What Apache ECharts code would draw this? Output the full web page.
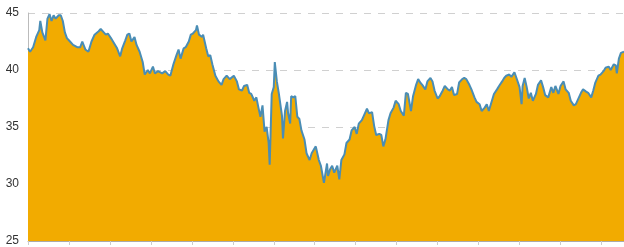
<!DOCTYPE html>
<html><head><meta charset="utf-8">
<script src="https://cdn.jsdelivr.net/npm/echarts@6/dist/echarts.min.js"></script>
<style>html,body{margin:0;padding:0;background:#fff}#c{width:624px;height:247px}</style>
</head><body><div id="c"></div>
<script>
var days = [0,2,5,8,11,12,14,17,19,21,23,25,27,30,32,34,36,38,41,44,48,51,53,56,59,62,65,69,71,74,76,78,81,83,87,90,92,95,97,99,101,104,106,109,112,114,117,119,122,124,127,131,134,137,139,142,145,147,149,152,154,157,159,161,164,165,167,170,171,174,176,178,180,183,186,189,191,194,197,201,204,206,209,211,214,216,218,221,223,225,227,229,231,233,235,236,238,240,241,243,245,248,249,251,253,254,256,257,259,261,263,265,267,270,272,275,277,279,281,284,286,289,292,293,295,297,299,302,304,306,309,311,314,316,319,321,323,326,328,331,333,336,338,340,343,345,347,349,352,354,357,359,362,364,367,369,371,374,376,379,381,383,385,388,390,393,395,397,400,402,405,407,410,412,414,416,419,421,424,426,428,431,433,436,438,441,443,446,448,450,453,455,458,460,463,465,467,470,472,475,477,480,482,483,485,487,489,491,493,496,498,501,503,505,508,511,513,515,518,520,523,525,528,530,533,535,538,540,542,545,547,550,552,554,557,559,562,564,567,569,572,574,575,577,579,582];
var values = [41.9,41.6,42.0,42.9,43.5,44.3,43.3,42.6,44.5,44.9,44.3,44.8,44.5,44.8,44.8,44.3,43.3,42.8,42.5,42.2,42.0,42.0,42.5,41.8,41.6,42.5,43.1,43.4,43.6,43.3,43.1,43.2,42.8,42.5,41.9,41.2,41.9,42.6,43.1,43.2,42.5,42.9,42.2,41.6,40.7,39.6,40.0,39.7,40.3,39.7,39.9,39.7,39.9,39.6,39.5,40.5,41.3,41.8,41.0,41.9,42.0,42.5,43.1,43.2,43.5,43.9,43.1,42.9,43.1,41.9,41.2,41.3,40.5,39.5,39.0,38.7,39.2,39.5,39.2,39.5,39.0,38.3,38.2,38.6,38.7,38.0,37.9,37.3,37.6,36.7,35.9,36.9,34.6,35.0,33.6,31.7,37.9,38.5,40.7,39.0,37.9,36.0,34.0,36.4,37.2,36.2,35.3,37.7,37.6,37.7,35.9,35.7,34.7,33.9,32.7,32.1,32.7,33.0,33.3,32.1,31.6,30.1,31.8,30.7,31.3,31.6,31.0,31.6,30.4,32.1,32.6,33.6,33.9,34.7,35.0,34.4,35.3,35.6,36.0,36.6,36.2,36.3,35.1,34.3,34.4,34.3,33.3,33.9,35.6,36.2,36.7,37.3,37.0,36.4,36.0,38.0,37.9,36.4,37.7,38.7,39.2,38.9,38.7,38.3,39.0,39.3,39.0,38.2,37.5,37.7,38.2,38.6,38.3,38.2,38.5,37.8,37.9,38.9,39.2,39.3,39.2,38.7,38.3,37.6,37.2,37.0,36.4,36.7,37.0,36.4,37.3,37.9,38.3,38.6,39.0,39.3,39.5,39.6,39.4,39.8,39.3,38.5,37.0,38.6,39.3,38.5,37.5,38.0,37.3,37.9,38.7,39.1,38.5,37.8,37.6,38.5,38.0,38.6,37.9,38.6,39.0,38.3,38.0,37.3,36.9,37.0,37.6,38.0,38.3,38.1,38.0,37.6,38.2,38.9,39.5,39.6,39.9,40.2,40.3,40.0,40.5,40.4,39.7,41.0,41.5,41.6];
var yTicks = [25, 30, 35, 40, 45];

var data = days.map(function(d, i){ return [d, values[i]]; });
var chart = echarts.init(document.getElementById('c'), null, {renderer:'canvas'});
chart.setOption({
  animation: false,
  grid: {left: 28, right: 0, top: 13, bottom: 4, containLabel: false},
  xAxis: {
    type: 'value', min: 0, max: 582, interval: 40,
    axisLine: {show: true, lineStyle: {color: '#aaaaaa', width: 1}},
    axisTick: {show: true, length: 4, lineStyle: {color: '#cccccc'}},
    axisLabel: {show: false},
    splitLine: {show: false}
  },
  yAxis: {
    type: 'value', min: yTicks[0], max: yTicks[yTicks.length-1], interval: 5,
    axisLine: {show: true, lineStyle: {color: '#bbbbbb', width: 1}},
    axisTick: {show: false},
    axisLabel: {color: '#333', fontSize: 12, fontFamily: 'Liberation Sans, Arial, sans-serif', margin: 9},
    splitLine: {show: true, lineStyle: {color: '#d0d0d0', type: [7, 7], width: 1}}
  },
  series: [{
    type: 'line', data: data, symbol: 'none', smooth: false,
    lineStyle: {color: '#4a8db5', width: 2},
    areaStyle: {color: '#f2ab00', opacity: 1},
    z: 2
  }]
});
</script></body></html>
